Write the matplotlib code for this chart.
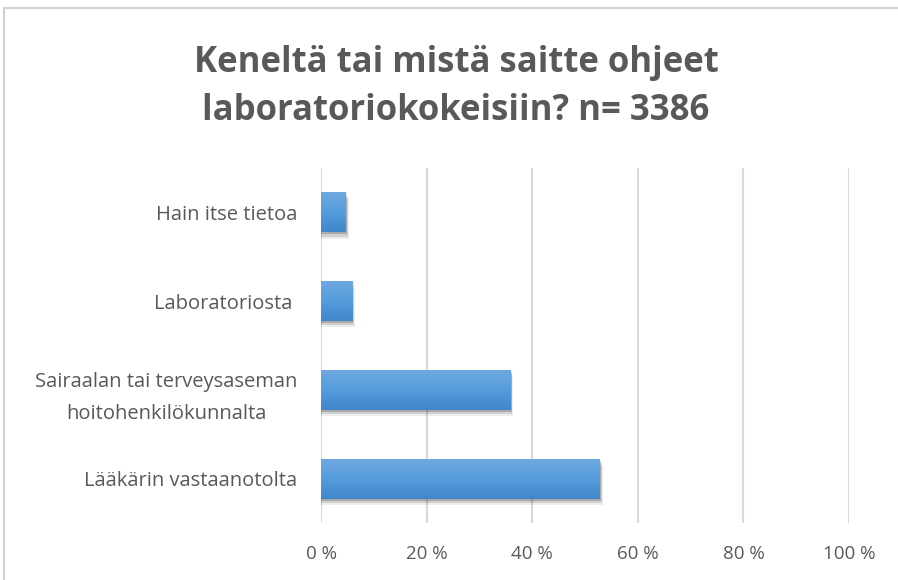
import numpy as np
import matplotlib.pyplot as plt
from matplotlib.patches import Rectangle
from matplotlib.colors import LinearSegmentedColormap

# ------------------------
# Data
categories = ["Lääkärin vastaanotolta",
              "Sairaalan tai terveysaseman\nhoitohenkilökunnalta",
              "Laboratoriosta ",
              "Hain itse tietoa"]
shares = [52.8, 35.9, 5.9, 4.7]
ticks = [0, 20, 40, 60, 80, 100]
tick_labels = ["0 %", "20 %", "40 %", "60 %", "80 %", "100 %"]

title = "Keneltä tai mistä saitte ohjeet\nlaboratoriokokeisiin? n= 3386"

text_grey = "#595959"
grid_grey = "#D9D9D9"

plt.rcParams['font.family'] = ['Open Sans', 'DejaVu Sans']

fig = plt.figure(figsize=(8.98, 5.80), dpi=100)
# chart frame (cut off at right/bottom like the screenshot)
fig.patches.append(Rectangle((4 / 898, -0.1), 1.2, 1 - 8 / 580 + 0.1,
                             transform=fig.transFigure, fill=False,
                             edgecolor="#D0D0D0", linewidth=1.5))

ax = fig.add_axes([321 / 898, 1 - 523 / 580, 528 / 898, 355 / 580])
ypos = np.arange(len(categories))
bar_h = 0.45

# gradient image used to fill each bar
grad = np.linspace(0, 1, 64).reshape(-1, 1)
cmap = LinearSegmentedColormap.from_list("bar", ["#6FA8E0", "#559CDD", "#4086C9"])

for y, v in zip(ypos, shares):
    # soft shadow below / right of the bar
    for k, a in zip([1.8, 1.2, 0.6], [0.07, 0.12, 0.18]):
        ax.add_patch(Rectangle((0, y - bar_h / 2 - 0.04 * k), v + 0.3 * k, bar_h,
                               facecolor="black", alpha=a, linewidth=0, zorder=2))
    bar = ax.barh(y, v, height=bar_h, color="#5B9BD5", zorder=3)[0]
    im = ax.imshow(grad, cmap=cmap, aspect="auto", zorder=4,
                   extent=[0, v, y - bar_h / 2, y + bar_h / 2])
    im.set_clip_path(bar)

ax.set_xlim(0, 100)
ax.set_ylim(-0.5, len(categories) - 0.5)
ax.set_xticks(ticks)
ax.set_xticklabels(tick_labels)
ax.set_yticks(ypos)
ax.set_yticklabels(categories, multialignment="center", linespacing=1.75)
ax.tick_params(axis="x", length=0, pad=16, labelsize=13.5, labelcolor=text_grey)
ax.tick_params(axis="y", length=0, pad=17, labelsize=14.5, labelcolor=text_grey)
ax.grid(axis="x", color=grid_grey, linewidth=1.5, zorder=0)
ax.set_axisbelow(True)
for s in ax.spines.values():
    s.set_visible(False)

fig.text(0.508, 1 - 87 / 580, title, ha="center", va="center",
         fontsize=25, fontweight="bold", color=text_grey, linespacing=1.45)

plt.savefig("out.png", dpi=100)
